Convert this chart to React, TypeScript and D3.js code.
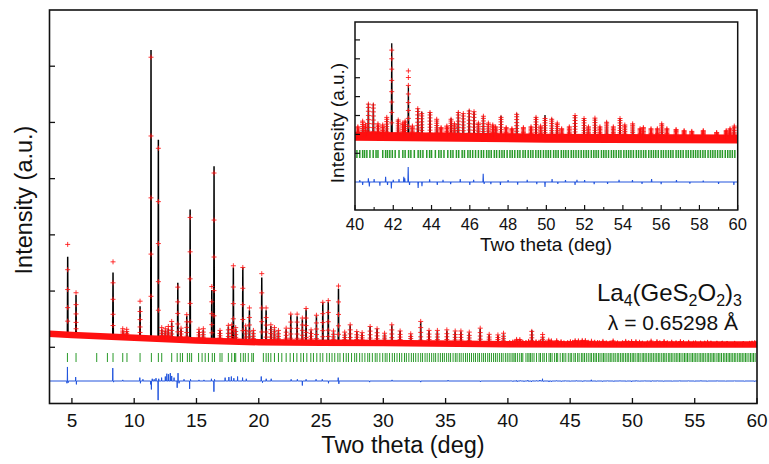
import React from "react";
import * as d3 from "d3";

const FONT = "'Liberation Sans', Arial, Helvetica, sans-serif";

// axis ticks
const mainXTicks = [5, 10, 15, 20, 25, 30, 35, 40, 45, 50, 55, 60];
const mainYTicks = [1000, 2000, 3000, 4000, 5000, 6000];
const insetXTicks = [40, 42, 44, 46, 48, 50, 52, 54, 56, 58, 60];
const insetXMinor = [41, 43, 45, 47, 49, 51, 53, 55, 57, 59];
const insetYTicks = [1010, 1060, 1110, 1160, 1210, 1260, 1310];

// background (2theta, counts)
const bgTheta = [3.2, 5, 10, 15, 20, 25, 30, 40, 50, 60];
const bgCounts = [1240, 1220, 1170, 1120, 1090, 1080, 1075, 1055, 1050, 1048];

// peaks: [2theta, calculated top, observed top]
const peaks: [number, number, number][] = [
  [4.66, 2610, 2830], [5.33, 1930, 1970], [8.3, 2330, 2520], [9.08, 1300, 1330],
  [9.4, 1290, 1320], [10.47, 1730, 1820], [11.35, 6290, 6160], [11.94, 4690, 4540],
  [12.21, 1320, 1350], [12.5, 1300, 1330], [12.74, 1330, 1370], [13.01, 1440, 1460],
  [13.5, 2150, 2070], [13.76, 1320, 1340], [14.22, 1560, 1580], [14.49, 3450, 3310],
  [15.2, 1300, 1320], [15.55, 1310, 1330], [16.23, 2020, 2080], [16.41, 4220, 4100],
  [16.89, 1290, 1300], [17.56, 1370, 1390], [17.83, 1380, 1400], [17.96, 2420, 2450],
  [18.15, 1330, 1350], [18.72, 2420, 2420], [18.95, 1360, 1380], [19.25, 1660, 1700],
  [19.57, 1290, 1300], [20.24, 2240, 2310], [20.59, 1660, 1700], [20.97, 1380, 1400],
  [21.26, 1330, 1350], [21.58, 1290, 1300], [22.2, 1320, 1340], [22.57, 1580, 1590],
  [23.08, 1550, 1590], [23.5, 1500, 1520], [23.8, 1670, 1690], [24.2, 1300, 1310],
  [24.63, 1560, 1570], [25.14, 1790, 1800], [25.58, 1810, 1830], [26.0, 1280, 1290],
  [26.4, 2040, 2090], [26.9, 1260, 1270], [27.34, 1390, 1400], [27.87, 1270, 1280],
  [28.3, 1250, 1260], [28.94, 1360, 1370], [29.5, 1330, 1330], [30.1, 1240, 1250],
  [30.68, 1390, 1400], [31.35, 1290, 1290], [32.2, 1230, 1240], [33.0, 1450, 1460],
  [33.67, 1290, 1300], [34.34, 1290, 1300], [35.1, 1300, 1310], [35.77, 1280, 1290],
  [36.23, 1280, 1290], [36.9, 1260, 1270], [37.78, 1330, 1340], [38.5, 1220, 1230],
  [39.2, 1210, 1220], [39.65, 1240, 1250],
  [40.15, 1075, 1080], [40.4, 1090, 1095], [40.55, 1080, 1085], [40.7, 1142, 1140],
  [40.96, 1142, 1138], [41.2, 1085, 1088], [41.45, 1080, 1085], [41.66, 1103, 1105],
  [41.92, 1301, 1283], [42.26, 1100, 1098], [42.5, 1085, 1090], [42.62, 1095, 1095],
  [42.79, 1188, 1228], [43.0, 1080, 1082], [43.28, 1129, 1128], [43.49, 1120, 1115],
  [43.92, 1120, 1118], [44.27, 1098, 1100], [44.5, 1075, 1078], [44.8, 1080, 1082],
  [45.02, 1103, 1100], [45.2, 1090, 1088], [45.4, 1120, 1118], [45.66, 1116, 1115],
  [45.97, 1125, 1122], [46.22, 1120, 1120], [46.45, 1090, 1090], [46.71, 1109, 1108],
  [46.97, 1085, 1090], [47.2, 1085, 1085], [47.35, 1080, 1080], [47.63, 1109, 1105],
  [47.9, 1075, 1078], [48.2, 1075, 1075], [48.45, 1116, 1113], [48.8, 1075, 1078],
  [49.2, 1080, 1080], [49.46, 1107, 1105], [49.7, 1080, 1082], [49.93, 1111, 1102],
  [50.28, 1103, 1100], [50.57, 1089, 1090], [50.8, 1075, 1075], [51.2, 1080, 1080],
  [51.5, 1111, 1110], [51.97, 1103, 1102], [52.2, 1080, 1080], [52.54, 1103, 1103],
  [52.8, 1080, 1080], [53.15, 1094, 1092], [53.5, 1080, 1080], [53.85, 1103, 1102],
  [54.1, 1085, 1085], [54.51, 1089, 1088], [54.9, 1075, 1075], [55.07, 1076, 1078],
  [55.47, 1072, 1075], [55.8, 1075, 1075], [56.03, 1089, 1088], [56.3, 1075, 1075],
  [56.78, 1072, 1073], [57.2, 1070, 1070], [57.6, 1068, 1068], [58.2, 1070, 1070],
  [58.9, 1063, 1065], [59.4, 1070, 1070], [59.6, 1075, 1075], [59.82, 1080, 1082],
];

// Bragg reflection positions (2theta)
const reflections = [
  4.64, 5.33, 6.99, 7.85, 8.3, 9.08, 9.42, 10.47, 11.38, 11.94, 12.21, 13.01, 13.45,
  13.7, 13.88, 14.27, 14.45, 14.61, 15.17, 15.45, 15.7, 15.96, 16.27, 16.45, 16.89,
  17.05, 17.56, 17.83, 18.05, 18.15, 18.55, 18.76, 18.92, 19.16, 19.44, 19.57, 20.37,
  20.59, 20.77, 20.97, 21.26, 21.58, 21.85, 22.2, 22.52, 22.79, 23.06, 23.38, 23.59,
  23.86, 24.18, 24.39, 24.66, 24.93, 25.14, 25.46, 25.67,
  25.88, 26.1, 26.35, 26.52, 26.8, 27.02, 27.2, 27.45, 27.7, 27.86, 28.1, 28.3, 28.52,
  28.75, 28.9, 29.12, 29.35, 29.5, 29.72, 29.95, 30.15, 30.3, 30.5, 30.72, 30.9, 31.1,
  31.3, 31.48, 31.7, 31.85, 32.05, 32.25, 32.42, 32.6, 32.8, 33.0, 33.15, 33.35, 33.52,
  33.7, 33.88, 34.05, 34.2, 34.4, 34.58, 34.75, 34.9, 35.08, 35.25, 35.4, 35.6, 35.78,
  35.92, 36.1, 36.25, 36.42, 36.6, 36.75, 36.92, 37.08, 37.25, 37.4, 37.58, 37.72, 37.9,
  38.05, 38.2, 38.38, 38.52, 38.68, 38.85, 39.0, 39.15, 39.32, 39.48, 39.62, 39.8, 39.95,
  40.1, 40.25, 40.4, 40.5, 40.62, 40.78, 40.95, 41.1, 41.2, 41.45, 41.6, 41.7, 41.82,
  41.95, 42.1, 42.3, 42.5, 42.62, 42.8, 42.92, 43.1, 43.3, 43.42, 43.55, 43.75, 43.9,
  44.0, 44.2, 44.38, 44.5, 44.65, 44.85, 45.0, 45.12, 45.3, 45.42, 45.6, 45.72, 45.9,
  46.02, 46.15, 46.3, 46.45, 46.6, 46.72, 46.88, 47.0, 47.12, 47.28, 47.4, 47.55, 47.68,
  47.8, 47.95, 48.1, 48.22, 48.35, 48.5, 48.62, 48.78, 48.9, 49.05, 49.18, 49.3, 49.45,
  49.58, 49.7, 49.85, 49.98, 50.1, 50.22, 50.38, 50.5, 50.62, 50.78, 50.9, 51.02, 51.15,
  51.3, 51.42, 51.55, 51.68, 51.82, 51.95, 52.08, 52.2, 52.35, 52.48, 52.6, 52.72, 52.88,
  53.0, 53.12, 53.25, 53.4, 53.52, 53.65, 53.78, 53.9, 54.05, 54.18, 54.3, 54.42, 54.55,
  54.7, 54.82, 54.95, 55.08, 55.2, 55.35, 55.48, 55.6, 55.72, 55.85, 56.0, 56.12, 56.25,
  56.38, 56.5, 56.62, 56.78, 56.9, 57.02, 57.15, 57.3, 57.42, 57.55, 57.68, 57.8, 57.92,
  58.05, 58.18, 58.3, 58.45, 58.58, 58.7, 58.82, 58.95, 59.08, 59.2, 59.35, 59.48, 59.6,
  59.72, 59.85,
];

// difference (obs - calc) spikes: [2theta, counts]
const diffSpikes: [number, number][] = [
  [4.6, -40], [4.64, 250], [4.7, -30], [5.3, 70], [5.36, -60], [8.28, 230], [8.34, -20],
  [9.08, 20], [10.45, 60], [10.5, -40], [10.7, 30], [11.32, -60], [11.38, -150], [11.45, 40],
  [11.6, 30], [11.75, 50], [11.92, -340], [11.97, 40], [12.2, 60], [12.5, 80], [12.62, 130],
  [12.76, 120], [12.9, 140], [13.01, 90], [13.2, 60], [13.45, -120], [13.52, 140], [13.6, -40],
  [14.0, 30], [14.45, -140], [14.52, 30], [15.2, 20], [15.6, 20], [16.2, 40], [16.4, -190],
  [16.45, 30], [17.3, 60], [17.6, 70], [17.8, 80], [18.0, 50], [18.3, 80], [18.7, 60],
  [19.0, 40], [20.2, 80], [20.3, -30], [20.6, 40], [21.0, 40], [22.6, 30], [23.1, 30],
  [23.5, -80], [23.8, 30], [24.6, 30], [25.1, 30], [25.6, -40], [26.38, 60], [26.43, -50],
  [28.9, -20], [30.7, 20], [33.0, -20], [35.2, 15], [37.8, -15],
  [40.25, 5], [40.4, -8], [40.7, 10], [40.75, -12], [41.0, 8], [41.3, -10], [41.6, 14],
  [41.7, -8], [41.9, -17], [42.0, 6], [42.3, 8], [42.55, 14], [42.6, 10], [42.78, 40],
  [42.85, -8], [43.3, -16], [43.5, -11], [43.9, 7], [44.3, -8], [44.6, 6], [45.0, -6],
  [45.5, 8], [46.0, -8], [46.2, 6], [46.7, 22], [46.75, -5], [47.1, -6], [47.6, -8],
  [48.0, 5], [48.5, -7], [49.0, 6], [49.5, -6], [49.93, -13], [50.3, 8], [50.6, -5],
  [51.0, 5], [51.5, -8], [51.6, 6], [52.0, 5], [52.5, -6], [53.2, -5], [53.8, 6],
  [54.5, 5], [55.0, -5], [55.5, 8], [56.0, -6], [56.8, 5], [57.5, -4], [58.2, 4],
  [59.0, -5], [59.8, -8],
];

const RED = "#ff1010";
const GREEN = "#2a9a2a";
const BLUE = "#2255dd";

type P = [number, number];

export default function App() {
  // main scales
  const x = d3.scaleLinear().domain([3.2, 60]).range([49.5, 757]);
  const y = d3.scaleLinear().domain([0, 7000]).range([403.5, 10]);
  // inset scales
  const xi = d3.scaleLinear().domain([40, 60]).range([355, 737.7]);
  const yi = d3.scaleLinear().domain([860, 1357.4]).range([210, 22]);
  const bg = d3.scaleLinear().domain(bgTheta).range(bgCounts);

  const sorted = [...peaks].sort((a, b) => a[0] - b[0]);
  const hw = 0.025;
  const calcPts: P[] = [[bgTheta[0], bg(bgTheta[0])]];
  sorted.forEach(([p, c]) => {
    calcPts.push([p - hw, bg(p - hw)], [p, c], [p + hw, bg(p + hw)]);
  });
  calcPts.push([60, bg(60)]);

  const bandPts: P[] = bgTheta.map((t) => [t, bg(t)] as P);

  const fracs = [1, 0.72, 0.5, 0.3, 0.15];
  const crossPts: P[] = sorted.flatMap(([p, , o]) =>
    fracs.map((f) => [p, bg(p) + f * (o - bg(p))] as P)
  );
  const insetFracs = [1, 0.9, 0.78, 0.65, 0.52, 0.4, 0.28, 0.16];
  const insetCross: P[] = sorted
    .filter((d) => d[0] >= 40 && d[0] <= 60)
    .flatMap(([p, , o]) => insetFracs.map((f) => [p, bg(p) + f * (o - bg(p))] as P));

  const dh = 0.015;
  const diffPts: P[] = [[3.2, 0]];
  diffSpikes.forEach(([p, v]) => {
    diffPts.push([p - dh, 0], [p, v], [p + dh, 0]);
  });
  diffPts.push([60, 0]);

  const mainLine = d3.line<P>().x((d) => x(d[0])).y((d) => y(d[1]));
  const insetLine = d3.line<P>().x((d) => xi(d[0])).y((d) => yi(d[1]));
  const mainDiff = d3.line<P>().x((d) => x(d[0])).y((d) => y(400 + d[1]));
  const insetDiff = d3.line<P>().x((d) => xi(d[0])).y((d) => yi(934 + d[1]));

  const crossPath = (
    sx: d3.ScaleLinear<number, number>,
    sy: d3.ScaleLinear<number, number>,
    pts: P[],
    s: number
  ) =>
    pts
      .map(([t, v]) => {
        const X = sx(t);
        const Y = sy(v);
        return `M${X - s},${Y}h${2 * s}M${X},${Y - s}v${2 * s}`;
      })
      .join("");

  const axisColor = "#111";

  return (
    <svg
      width={769}
      height={464}
      viewBox="0 0 769 464"
      style={{ position: "absolute", left: 0, top: 0, background: "#fff" }}
      fontFamily={FONT}
    >
      <defs>
        <clipPath id="mainClip">
          <rect x={49.5} y={10} width={757 - 49.5} height={403.5 - 10} />
        </clipPath>
        <clipPath id="insetClip">
          <rect x={355} y={22} width={737.7 - 355} height={210 - 22} />
        </clipPath>
      </defs>

      {/* ===== main plot ===== */}
      <g clipPath="url(#mainClip)">
        {reflections.map((r, i) => (
          <line key={i} x1={x(r)} x2={x(r)} y1={353} y2={362} stroke={GREEN} strokeWidth={1} />
        ))}
        <path d={mainDiff(diffPts) || ""} fill="none" stroke={BLUE} strokeWidth={1} />
        <path d={mainLine(calcPts) || ""} fill="none" stroke="#000" strokeWidth={1.5} />
        <path d={mainLine(bandPts) || ""} fill="none" stroke={RED} strokeWidth={6.5} />
        <path d={crossPath(x, y, crossPts, 2.5)} fill="none" stroke={RED} strokeWidth={1} strokeOpacity={0.85} />
      </g>

      {/* main frame */}
      <rect x={49.5} y={10} width={757 - 49.5} height={403.5 - 10} fill="none" stroke={axisColor} strokeWidth={1.6} />
      {mainXTicks.map((t) => (
        <g key={t}>
          <line x1={x(t)} x2={x(t)} y1={403.5} y2={398} stroke={axisColor} strokeWidth={1.3} />
          <text x={x(t)} y={427} fontSize={19} textAnchor="middle" fill="#111">{t}</text>
        </g>
      ))}
      {mainYTicks.map((t) => (
        <line key={t} x1={49.5} x2={55} y1={y(t)} y2={y(t)} stroke={axisColor} strokeWidth={1.3} />
      ))}
      <text x={403} y={453} fontSize={23.5} textAnchor="middle" fill="#111">Two theta (deg)</text>
      <text transform="translate(32,200) rotate(-90)" fontSize={23.5} textAnchor="middle" fill="#111">
        Intensity (a.u.)
      </text>

      {/* ===== inset ===== */}
      <g clipPath="url(#insetClip)">
        {reflections.filter((r) => r >= 40).map((r, i) => (
          <line key={i} x1={xi(r)} x2={xi(r)} y1={150} y2={158} stroke={GREEN} strokeWidth={1.5} />
        ))}
        <path d={insetDiff(diffPts) || ""} fill="none" stroke={BLUE} strokeWidth={1.1} />
        <path d={insetLine(calcPts) || ""} fill="none" stroke="#000" strokeWidth={1.3} />
        <path d={insetLine(bandPts) || ""} fill="none" stroke={RED} strokeWidth={9} />
        <path d={crossPath(xi, yi, insetCross, 2.5)} fill="none" stroke={RED} strokeWidth={1} strokeOpacity={0.85} />
      </g>
      <rect x={355} y={22} width={737.7 - 355} height={210 - 22} fill="none" stroke={axisColor} strokeWidth={1.5} />
      {insetXTicks.map((t) => (
        <g key={t}>
          <line x1={xi(t)} x2={xi(t)} y1={210} y2={205} stroke={axisColor} strokeWidth={1.2} />
          <text x={xi(t)} y={230} fontSize={16.5} textAnchor="middle" fill="#111">{t}</text>
        </g>
      ))}
      {insetXMinor.map((t) => (
        <line key={t} x1={xi(t)} x2={xi(t)} y1={210} y2={207} stroke={axisColor} strokeWidth={1.1} />
      ))}
      {insetYTicks.map((t) => (
        <line key={t} x1={355} x2={360} y1={yi(t)} y2={yi(t)} stroke={axisColor} strokeWidth={1.2} />
      ))}
      <text x={546} y={251} fontSize={19} textAnchor="middle" fill="#111">Two theta (deg)</text>
      <text transform="translate(344,123) rotate(-90)" fontSize={19} textAnchor="middle" fill="#111">
        Intensity (a.u.)
      </text>

      {/* annotations */}
      <text x={742} y={301} fontSize={24} textAnchor="end" fill="#111">
        La<tspan fontSize={16} dy={5}>4</tspan>
        <tspan dy={-5}>(GeS</tspan>
        <tspan fontSize={16} dy={5}>2</tspan>
        <tspan dy={-5}>O</tspan>
        <tspan fontSize={16} dy={5}>2</tspan>
        <tspan dy={-5}>)</tspan>
        <tspan fontSize={16} dy={5}>3</tspan>
      </text>
      <text x={738} y={330} fontSize={21} textAnchor="end" fill="#111">λ = 0.65298 Å</text>
    </svg>
  );
}
